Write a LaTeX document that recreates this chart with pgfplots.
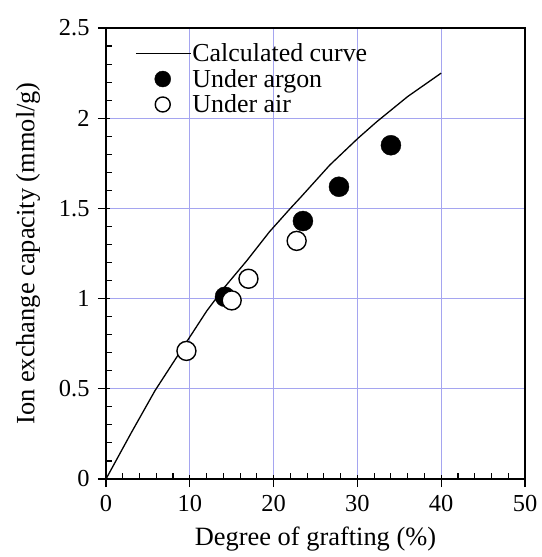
\documentclass[border=0pt]{standalone}
\usepackage{pgfplots}
\pgfplotsset{compat=1.18}
\usepackage{fontspec}
\setmainfont{Liberation Serif}
\definecolor{gridc}{RGB}{165,165,240}
\begin{document}
\begin{tikzpicture}
\begin{axis}[
  scale only axis,
  width=419bp, height=451bp,
  xmin=0, xmax=50, ymin=0, ymax=2.5,
  xtick={0,10,...,50}, ytick={0,0.5,...,2.5},
  yticklabels={0,0.5,1,1.5,2,2.5},
  minor x tick num=4, minor y tick num=4,
  tick pos=left,
  tick align=inside,
  major tick length=4bp, minor tick length=6bp,
  extra x ticks={0,10,...,50}, extra x tick labels={},
  extra x tick style={tick align=outside, major tick length=8bp, grid=none},
  extra y ticks={0,0.5,...,2.5}, extra y tick labels={},
  extra y tick style={tick align=outside, major tick length=8bp, grid=none},
  grid=major,
  grid style={gridc, line width=1bp},
  major grid style={gridc, line width=1bp},
  x grid style={gridc, line width=1bp},
  y grid style={gridc, line width=1bp},
  axis line style={line width=1.3bp},
  tick style={black, line width=1.1bp},
  /pgf/number format/assume math mode=true,
  ticklabel style={font=\fontsize{24.5}{27}\selectfont},
  xticklabel style={yshift=-13bp},
  yticklabel style={xshift=-13bp},
  xlabel={Degree of grafting (\%)},
  ylabel={Ion exchange capacity (mmol/g)},
  label style={font=\fontsize{26.5}{30}\selectfont},
  xlabel style={at={(axis description cs:0.5,0)}, anchor=base, yshift=-66bp},
  ylabel style={at={(axis description cs:-0.186,0.5)}, anchor=center, rotate=0},
  legend style={draw=none, fill=none, at={(0.062,0.972)}, anchor=north west,
     font=\fontsize{26}{28}\selectfont, row sep=4bp, nodes={inner sep=1bp}},
  legend cell align=left,
  clip=false,
]
\coordinate (sw) at (rel axis cs:0,0);
\coordinate (ne) at (rel axis cs:1,1);
\addlegendimage{black, line width=1.3bp, legend image code/.code={\draw[black, line width=1.3bp] (0cm,0) -- (1.94cm,0);}}
\addlegendentry{Calculated curve}
\addlegendimage{only marks, mark=*, black, legend image code/.code={\draw[fill=black] (0.95cm,0) circle (8bp);}}
\addlegendentry{Under argon}
\addlegendimage{only marks, mark=o, black, legend image code/.code={\draw[line width=1.4bp] (0.95cm,0) circle (7.5bp);}}
\addlegendentry{Under air}
\addplot[black, line width=1.3bp, forget plot] coordinates {
(0,0) (3,0.255) (5.85,0.49) (9.2,0.73) (12,0.93) (14.2,1.066) (16.8,1.21) (19.5,1.37) (22,1.5) (23.2,1.56) (26.7,1.74) (30.1,1.89) (32.3,1.98) (36,2.12) (40,2.25)
};
\addplot[only marks, mark=*, mark size=10bp, black, forget plot] coordinates {
(14.2,1.01) (23.5,1.43) (27.8,1.62) (34.0,1.85)
};
\addplot[only marks, mark=*, mark size=9.5bp, draw=black, fill=white, line width=1.4bp, forget plot] coordinates {
(9.6,0.71) (15.0,0.99) (17.0,1.11) (22.75,1.32)
};
\end{axis}
\pgfresetboundingbox
\path ([shift={(-106bp,-78bp)}]sw) rectangle ([shift={(17bp,28bp)}]ne);
\end{tikzpicture}
\end{document}
